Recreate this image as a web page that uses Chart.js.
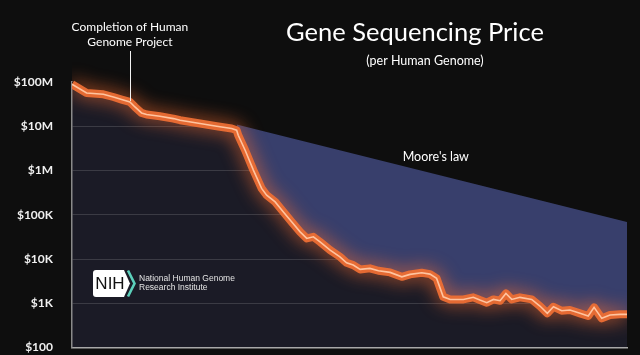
<!DOCTYPE html>
<html><head><meta charset="utf-8">
<script src="https://cdn.jsdelivr.net/npm/chart.js@4"></script>
<style>html,body{margin:0;padding:0;background:#0e0e0e;overflow:hidden}canvas{display:block}</style>
</head><body>
<canvas id="c" width="640" height="355"></canvas>
<script>
// ---- data ----
const years = [2001.70,2002.25,2002.88,2003.26,2003.57,2003.88,2004.07,2004.32,2004.51,2005.01,
  2005.52,2005.77,2006.52,2007.15,2007.71,2007.90,2007.96,2008.22,2008.53,2008.84,
  2009.03,2009.35,2009.66,2009.97,2010.29,2010.54,2010.79,2011.04,2011.42,2011.79,
  2012.04,2012.29,2012.55,2012.92,2013.24,2013.68,2014.12,2014.43,2014.87,2015.18,
  2015.43,2015.68,2015.94,2016.44,2016.81,2017.06,2017.32,2017.57,2017.82,2018.04,
  2018.26,2018.57,2019.01,2019.32,2019.60,2019.83,2020.14,2020.45,2020.83,2021.14,
  2021.36,2021.65,2021.96,2022.34,2022.60];
const costs = [88700000,56500000,52700000,45800000,40100000,35400000,27300000,20000000,18400000,16800000,
  14900000,13700000,11500000,10000000,8870000,8120000,6260000,2870000,1020000,393000,
  277000,195000,116000,69200,41100,29200,31700,24400,15900,11200,
  8200,7280,5820,6140,5420,4980,3960,4490,4880,4560,
  3650,1400,1220,1220,1360,1180,1030,1220,1140,1670,
  1220,1360,1220,865,592,834,677,702,592,514,
  807,456,542,561,561];
const mooreYears = [2007.90, 2022.60];
const mooreCosts = [11000000, 69000];
const tickValues = [100, 1000, 10000, 100000, 1000000, 10000000, 100000000];
const tickLabels = ['$100', '$1K', '$10K', '$100K', '$1M', '$10M', '$100M'];
const titleText = 'Gene Sequencing Price';
const subtitleText = '(per Human Genome)';
const milestoneYear = 2003.88;
const milestoneCost = 35400000;
const milestoneLines = ['Completion of Human', 'Genome Project'];
const mooreLabel = "Moore's law";
const mooreLabelYear = 2015.4;
const mooreLabelCost = 2000000;
const nihLines = ['National Human Genome', 'Research Institute'];

const BG = '#0e0e0e';
const NAVY = '#1b1b26';
const BLUE = '#383f6c';
const FONT = 'Lato, "Open Sans", sans-serif';

const costPts = years.map((x, i) => ({x, y: costs[i]}));
const moorePts = mooreYears.map((x, i) => ({x, y: mooreCosts[i]}));

const decor = {
  id: 'decor',
  beforeDraw(chart) {
    const {ctx, chartArea: a} = chart;
    ctx.save();
    ctx.fillStyle = NAVY;
    ctx.fillRect(a.left, a.top, a.right - a.left, a.bottom - a.top);
    ctx.restore();
  },
  beforeDatasetDraw(chart, args) {
    if (args.index === 1) {
      chart.ctx.save();
      chart.ctx.shadowColor = 'rgba(242,108,48,1)';
      chart.ctx.shadowBlur = 18;
    }
  },
  afterDatasetDraw(chart, args) {
    if (args.index === 1) chart.ctx.restore();
  },
  afterDraw(chart) {
    const {ctx, scales: {x, y}} = chart;
    ctx.save();
    ctx.fillStyle = '#ffffff';
    ctx.textAlign = 'center';
    ctx.textBaseline = 'middle';
    ctx.font = '25.5px ' + FONT;
    ctx.fillText(titleText, 415, 33);
    ctx.font = '12.5px ' + FONT;
    ctx.fillText(subtitleText, 425, 61);
    // milestone annotation
    const mx = x.getPixelForValue(milestoneYear);
    ctx.font = '12px ' + FONT;
    ctx.fillText(milestoneLines[0], mx, 27);
    ctx.fillText(milestoneLines[1], mx, 42);
    ctx.strokeStyle = '#f2f2f2';
    ctx.lineWidth = 1;
    ctx.beginPath();
    ctx.moveTo(Math.round(mx) + 0.5, 51);
    ctx.lineTo(Math.round(mx) + 0.5, y.getPixelForValue(milestoneCost) - 1);
    ctx.stroke();
    // Moore's law label
    ctx.font = '12.5px ' + FONT;
    ctx.fillText(mooreLabel, x.getPixelForValue(mooreLabelYear), y.getPixelForValue(mooreLabelCost));
    // NIH logo
    ctx.fillStyle = '#ffffff';
    ctx.beginPath();
    ctx.moveTo(96, 270);
    ctx.lineTo(124, 270);
    ctx.lineTo(130, 283.5);
    ctx.lineTo(124, 297);
    ctx.lineTo(96, 297);
    ctx.quadraticCurveTo(93, 297, 93, 294);
    ctx.lineTo(93, 273);
    ctx.quadraticCurveTo(93, 270, 96, 270);
    ctx.fill();
    ctx.strokeStyle = '#5cd0bb';
    ctx.lineWidth = 2.6;
    ctx.beginPath();
    ctx.moveTo(128, 270.5);
    ctx.lineTo(134.5, 283.5);
    ctx.lineTo(128, 296.5);
    ctx.stroke();
    ctx.fillStyle = '#111111';
    ctx.font = '17px "Liberation Sans", Arial, sans-serif';
    ctx.textAlign = 'center';
    ctx.fillText('NIH', 110, 284.5);
    ctx.fillStyle = '#e4e4e4';
    ctx.textAlign = 'left';
    ctx.font = '8.5px "Liberation Sans", Arial, sans-serif';
    ctx.fillText(nihLines[0], 139, 279);
    ctx.fillText(nihLines[1], 139, 288);
    ctx.restore();
  }
};

new Chart(document.getElementById('c'), {
  type: 'line',
  data: {
    datasets: [
      {data: costPts, borderColor: '#ffc4a0', borderWidth: 1.6, pointRadius: 0, fill: false,
       clip: {left: 0, top: 30, right: 0, bottom: 0}},
      {data: costPts, borderColor: 'rgba(236,110,52,0.95)', borderWidth: 8, pointRadius: 0, fill: false,
       borderJoinStyle: 'round', clip: {left: 0, top: 30, right: 0, bottom: 0}},
      {data: moorePts, borderColor: 'transparent', borderWidth: 0, pointRadius: 0,
       backgroundColor: BLUE, fill: 3},
      {data: costPts, borderColor: 'transparent', borderWidth: 0, pointRadius: 0,
       backgroundColor: BG, fill: 'end'}
    ]
  },
  options: {
    responsive: false,
    animation: false,
    events: [],
    layout: {padding: {top: 82, left: 0, right: 13, bottom: 7.5}},
    plugins: {legend: {display: false}, tooltip: {enabled: false}, title: {display: false}},
    scales: {
      x: {
        type: 'linear', min: 2001.7, max: 2022.6,
        ticks: {display: false},
        grid: {display: false, drawTicks: false},
        border: {display: true, color: '#a8a8a8', width: 1.5},
        afterFit(s) { s.height = 0; }
      },
      y: {
        type: 'logarithmic', min: 100, max: 100000000,
        afterBuildTicks(s) { s.ticks = tickValues.map(v => ({value: v})); },
        ticks: {
          color: '#f0f0f0', padding: 19,
          font: {family: FONT, size: 12, weight: 'bold'},
          callback: (v) => tickLabels[tickValues.indexOf(v)]
        },
        grid: {
          drawTicks: false,
          color: (c) => (c.tick && (c.tick.value === 100 || c.tick.value === 100000000)) ? 'transparent' : 'rgba(255,255,255,0.14)'
        },
        border: {display: true, color: '#8a8a8a', width: 1.5},
        afterFit(s) { s.width = 72; s.paddingTop = 0; s.paddingBottom = 0; }
      }
    }
  },
  plugins: [decor]
});
</script>
</body></html>
